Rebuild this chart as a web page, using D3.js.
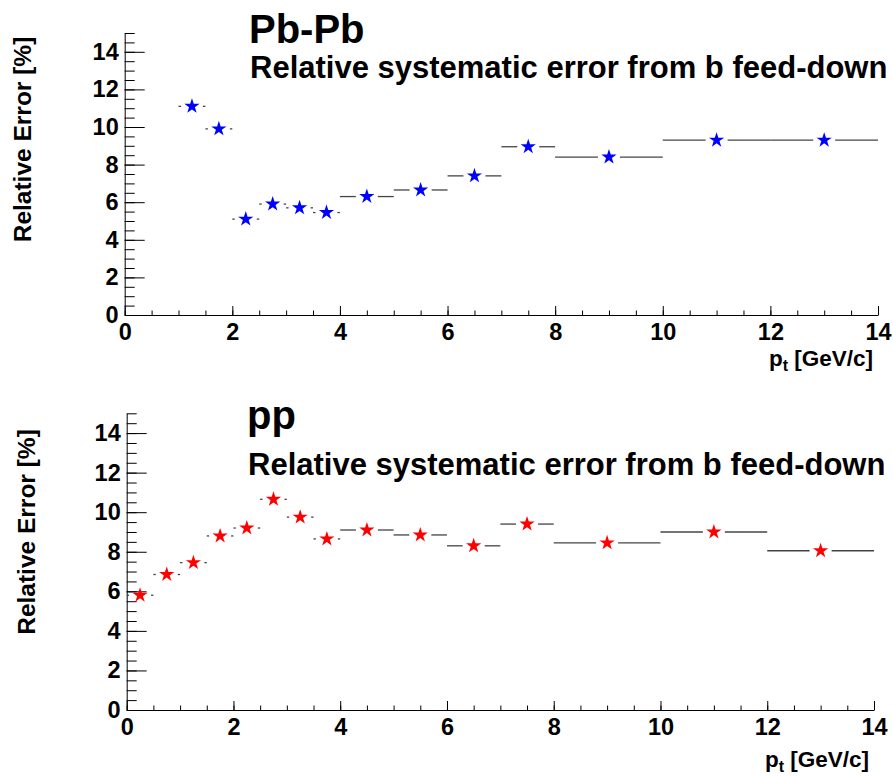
<!DOCTYPE html>
<html>
<head>
<meta charset="utf-8">
<script src="https://cdn.jsdelivr.net/npm/d3@7"></script>
<style>
  body { margin: 0; background: #fff; }
  svg { display: block; font-family: "Liberation Sans", Arial, Helvetica, sans-serif; font-weight: bold; }
</style>
</head>
<body>
<div id="chartDiv"></div>
<script>
// Pb-Pb bins and relative error (%)
const pbpbLow  = [1, 1.5, 2, 2.5, 3, 3.5, 4, 5, 6, 7, 8, 10, 12];
const pbpbHigh = [1.5, 2, 2.5, 3, 3.5, 4, 5, 6, 7, 8, 10, 12, 14];
const pbpbErr  = [11.1, 9.9, 5.1, 5.9, 5.7, 5.45, 6.3, 6.65, 7.4, 8.95, 8.4, 9.3, 9.3];

// pp bins and relative error (%)
const ppLow  = [0, 0.5, 1, 1.5, 2, 2.5, 3, 3.5, 4, 5, 6, 7, 8, 10, 12];
const ppHigh = [0.5, 1, 1.5, 2, 2.5, 3, 3.5, 4, 5, 6, 7, 8, 10, 12, 14];
const ppErr  = [5.8, 6.85, 7.45, 8.8, 9.2, 10.65, 9.75, 8.65, 9.1, 8.85, 8.3, 9.4, 8.45, 9.0, 8.05];

const xTicks = [0, 2, 4, 6, 8, 10, 12, 14];
const yTicks = [0, 2, 4, 6, 8, 10, 12, 14];
const subtitle = 'Relative systematic error from b feed-down';

const W = 893, H = 776;
const svg = d3.select('#chartDiv').append('svg')
	.attr('width', W)
	.attr('height', H);

const panels = [
	{ title: 'Pb-Pb', low: pbpbLow, high: pbpbHigh, err: pbpbErr, color: '#0000ff',
	  x0: 124.7, x1: 878, y0: 315, y1: 33, titleY: 43, subY: 78, titleX: 249,
	  xTitleY: 366, yTitleX: 31, yTitleMid: 139.5 },
	{ title: 'pp', low: ppLow, high: ppHigh, err: ppErr, color: '#ff0000',
	  x0: 126.7, x1: 874, y0: 710, y1: 413.3, titleY: 429, subY: 475, titleX: 247,
	  xTitleY: 767, yTitleX: 35, yTitleMid: 532 }
];

const halfSteps = d3.range(0, 15.001, 0.5);
const star = d3.symbol().type(d3.symbolStar).size(72);

function drawPanel(p){
	const g = svg.append('g');
	const x = d3.scaleLinear().domain([0, 14]).range([p.x0, p.x1]);
	const y = d3.scaleLinear().domain([0, 15]).range([p.y0, p.y1]);

	// minor ticks
	g.append('g')
		.attr('transform', `translate(${p.x0},0)`)
		.call(d3.axisLeft(y).tickValues(halfSteps).tickSize(-10).tickSizeOuter(0).tickFormat(''))
		.call(a => a.select('.domain').remove());
	g.append('g')
		.attr('transform', `translate(0,${p.y0})`)
		.call(d3.axisBottom(x).tickValues(d3.range(0, 14.001, 0.5)).tickSize(-4.5).tickSizeOuter(0).tickFormat(''))
		.call(a => a.select('.domain').remove());

	// major axes
	const yAx = g.append('g')
		.attr('transform', `translate(${p.x0},0)`)
		.call(d3.axisLeft(y).tickValues(yTicks).tickSize(-20).tickSizeOuter(0).tickPadding(6));
	const xAx = g.append('g')
		.attr('transform', `translate(0,${p.y0})`)
		.call(d3.axisBottom(x).tickValues(xTicks).tickSize(-9).tickSizeOuter(0).tickPadding(8));

	[yAx, xAx].forEach(a => {
		a.selectAll('line, path').attr('stroke', '#000').attr('stroke-width', 1);
		a.selectAll('text').attr('fill', '#000').style('font-size', '23.5px').style('font-weight', 'bold');
	});
	g.selectAll('line').attr('stroke', '#000');

	// error bars (horizontal, gap around marker)
	const gap = 11;
	const bins = p.err.map((v, i) => ({ lo: p.low[i], hi: p.high[i], v: v, c: (p.low[i] + p.high[i]) / 2 }));
	const bars = g.append('g').attr('stroke', '#444').attr('stroke-width', 1.3);
	bins.forEach(d => {
		const cx = x(d.c), cy = y(d.v);
		if (cx - gap > x(d.lo)) bars.append('line').attr('x1', x(d.lo)).attr('x2', cx - gap).attr('y1', cy).attr('y2', cy);
		if (x(d.hi) > cx + gap) bars.append('line').attr('x1', cx + gap).attr('x2', x(d.hi)).attr('y1', cy).attr('y2', cy);
	});

	g.append('g').selectAll('path')
		.data(bins)
		.enter()
		.append('path')
		.attr('d', star)
		.attr('transform', d => `translate(${x(d.c)},${y(d.v)})`)
		.attr('fill', p.color);

	// titles
	g.append('text').attr('x', p.titleX).attr('y', p.titleY)
		.style('font-size', '40px').text(p.title);
	g.append('text').attr('x', p.titleX + 1).attr('y', p.subY)
		.style('font-size', '31px').text(subtitle);

	const xt = g.append('text').attr('x', p.x1 - 5).attr('y', p.xTitleY)
		.attr('text-anchor', 'end').style('font-size', '22.5px');
	xt.append('tspan').text('p');
	xt.append('tspan').attr('dy', 5).style('font-size', '16px').text('t');
	xt.append('tspan').attr('dy', -5).text(' [GeV/c]');

	g.append('text')
		.attr('transform', `translate(${p.yTitleX},${p.yTitleMid}) rotate(-90)`)
		.attr('text-anchor', 'middle')
		.style('font-size', '24.5px')
		.text('Relative Error [%]');
}

panels.forEach(drawPanel);
</script>
</body>
</html>
